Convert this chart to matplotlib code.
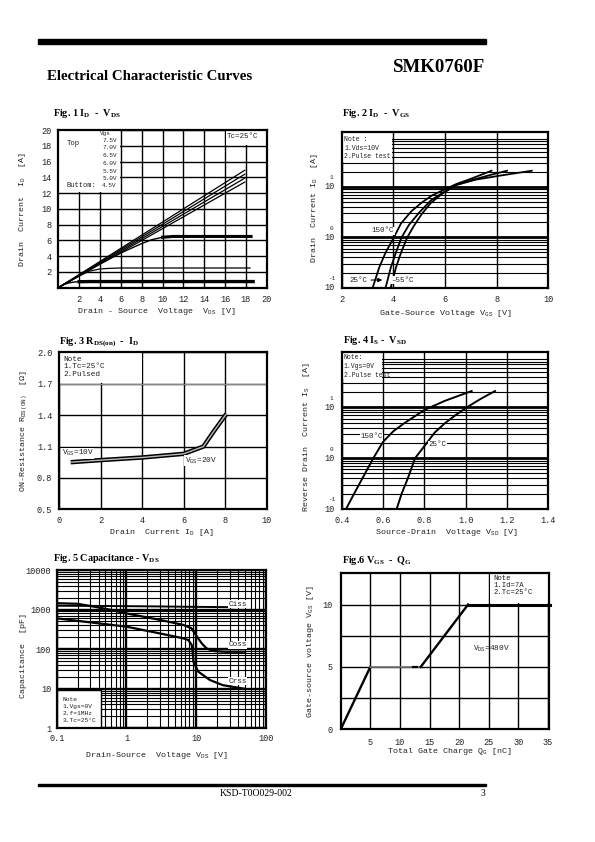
import matplotlib
matplotlib.use('Agg')
import matplotlib.pyplot as plt
from matplotlib.patches import Rectangle

# ---------------- data ----------------
# Fig.1  ID - VDS  (Tc = 25C)
f1_vgs_labels = ['7.5V', '7.0V', '6.5V', '6.0V', '5.5V', '5.0V', '4.5V']
f1_lin_vds = [0, 17.9]
f1_lin_id = [[0, 14.9], [0, 14.4], [0, 13.9], [0, 13.4]]
f1_55_vds = [0, 2, 4, 6, 7, 8, 9, 10, 11, 18.5]
f1_55_id = [0, 1.5, 3.0, 4.4, 5.0, 5.6, 6.1, 6.4, 6.5, 6.5]
f1_50_vds = [0, 1, 2, 3, 4, 5, 6, 18.4]
f1_50_id = [0, 0.8, 1.5, 2.1, 2.38, 2.46, 2.5, 2.5]
f1_45_vds = [0, 0.5, 1, 1.5, 2, 3, 18.7]
f1_45_id = [0, 0.4, 0.6, 0.72, 0.76, 0.78, 0.78]

# Fig.2  ID - VGS
f2_150_vgs = [3.2, 3.45, 3.7, 4.0, 4.3, 4.7, 5.1, 5.5, 6.0, 6.45, 7.0, 7.8]
f2_150_id = [0.1, 0.25, 0.5, 0.95, 1.9, 3.3, 4.9, 6.8, 9.0, 11.5, 14.5, 21]
f2_25_vgs = [3.7, 3.9, 4.1, 4.32, 4.6, 5.0, 5.45, 5.9, 6.45, 7.0, 7.7, 8.4]
f2_25_id = [0.1, 0.25, 0.5, 1.0, 1.75, 3.1, 5.4, 7.6, 11.0, 13.5, 17, 21]
f2_m55_vgs = [3.9, 4.1, 4.3, 4.54, 4.8, 5.1, 5.45, 5.9, 6.45, 7.2, 8.2, 9.36]
f2_m55_id = [0.1, 0.25, 0.5, 1.0, 1.7, 2.9, 4.8, 7.4, 11.0, 14, 17, 21]
f24_ytick_vals = [0.1, 1, 10]
f24_ytick_exp = ['-1', '0', '1']

# Fig.3  RDS(on) - ID
f3_id = [0.55, 2, 4, 6, 6.95, 7.43, 8.05]
f3_rds = [0.95, 0.97, 0.995, 1.03, 1.10, 1.24, 1.41]

# Fig.4  IS - VSD
f4_150_vsd = [0.421, 0.46, 0.5, 0.553, 0.6, 0.65, 0.7, 0.8, 0.9, 1.029]
f4_150_is = [0.1, 0.2, 0.4, 1.0, 2.1, 3.4, 4.8, 8.9, 13.5, 21]
f4_25_vsd = [0.666, 0.69, 0.72, 0.755, 0.811, 0.85, 0.9, 0.95, 1.005, 1.07, 1.142]
f4_25_is = [0.1, 0.2, 0.4, 1.0, 1.97, 3.2, 4.9, 7.0, 10, 14.5, 21]

# Fig.5  Capacitance - VDS
f5_ciss_v = [0.1, 0.3, 1, 3, 10, 35, 37]
f5_ciss_c = [1250, 1240, 1220, 1200, 1170, 1150, 1350]
f5_coss_v = [0.1, 0.2, 0.5, 1, 3, 6.5, 8.5, 10, 12, 14, 17.5, 25, 50]
f5_coss_c = [1450, 1400, 1050, 800, 550, 410, 340, 220, 140, 105, 90, 86, 86]
f5_crss_v = [0.1, 1, 3, 6.5, 7.7, 8.6, 8.9, 9.1, 10.7, 15.7, 24, 49]
f5_crss_c = [600, 370, 250, 188, 170, 128, 86, 48, 27, 16.6, 12.3, 10]

# Fig.6  VGS - QG
f6_qg = [0, 5, 13.5, 21.5, 35.3]
f6_vgs = [0, 5, 5, 10, 10]

# ---------------- figure ----------------
W, H, DPI = 595, 842, 100
plt.rcParams['font.family'] = ['Liberation Mono', 'DejaVu Sans Mono']
fig = plt.figure(figsize=(W / DPI, H / DPI), dpi=DPI)
SERIF = 'Liberation Serif'
TXT = '#222222'
LAB = 6.0


def px_axes(l, t, r, b):
    return fig.add_axes([l / W, 1 - b / H, (r - l) / W, (b - t) / H])


def style(ax, pad=5):
    for s in ax.spines.values():
        s.set_linewidth(1.6)
        s.set_color('black')
        s.set_zorder(4)
    ax.tick_params(which='both', length=0, labelsize=6.2, labelcolor=TXT, pad=pad)


def note_box(ax, x0, y0, x1, y1, edge=False):
    ax.add_patch(Rectangle((x0, y0), x1 - x0, y1 - y0, facecolor='white',
                           edgecolor='black' if edge else 'none', lw=1.0, zorder=2.2))


def pow10_labels(ax, vals, exps):
    ax.set_yticks(vals)
    ax.set_yticklabels([''] * len(vals))
    for v, e in zip(vals, exps):
        ax.annotate('10', xy=(0, v), xycoords=('axes fraction', 'data'),
                    xytext=(-5, 0), textcoords='offset points', ha='right',
                    va='center', size=6.2, color=TXT, annotation_clip=False)
        ax.annotate(e, xy=(0, v), xycoords=('axes fraction', 'data'),
                    xytext=(-7.5, 6.5), textcoords='offset points', ha='center',
                    va='center', size=4.3, color=TXT, annotation_clip=False)


def ftext(x, y, s, **kw):
    fig.text(x / W, 1 - y / H, s, **kw)


# page decorations
fig.add_artist(Rectangle((37.7 / W, 1 - 43.5 / H), 448 / W, 4.2 / H,
                         transform=fig.transFigure, color='black'))
fig.add_artist(Rectangle((37.7 / W, 1 - 786.3 / H), 448 / W, 2.2 / H,
                         transform=fig.transFigure, color='black'))
ftext(485, 71.7, 'SMK0760F', family=SERIF, weight='bold', size=13.6,
      ha='right', va='baseline')
ftext(47, 80.3, 'Electrical Characteristic Curves', family=SERIF, weight='bold',
      size=10.7, ha='left', va='baseline')
ftext(256, 796, 'KSD-T0O029-002', family=SERIF, size=7, ha='center', va='baseline')
ftext(485, 796, '3', family=SERIF, size=7, ha='right', va='baseline')

tkw = dict(family=SERIF, weight='bold', size=7.3, ha='left', va='baseline')
ftext(53, 116, r'Fig. 1 $\mathregular{I_D}$  -  $\mathregular{V_{DS}}$', **tkw)
ftext(342, 116, r'Fig. 2 $\mathregular{I_D}$  -  $\mathregular{V_{GS}}$', **tkw)
ftext(59, 344, r'Fig. 3 $\mathregular{R_{DS(on)}}$  -  $\mathregular{I_D}$', **tkw)
ftext(343, 343, r'Fig. 4 $\mathregular{I_S}$ -  $\mathregular{V_{SD}}$', **tkw)
ftext(53, 561, r'Fig. 5 Capacitance - $\mathregular{V_{DS}}$', **tkw)
ftext(342, 563, r'Fig.6 $\mathregular{V_{GS}}$  -  $\mathregular{Q_G}$', **tkw)

lkw = dict(size=LAB, color=TXT, ha='center', va='center')
# ---------------- Fig 1 ----------------
ax1 = px_axes(58.3, 130, 266.7, 287.7)
ax1.set_xlim(0, 20)
ax1.set_ylim(0, 20)
ax1.set_xticks(range(2, 21, 2))
ax1.set_yticks(range(2, 21, 2))
ax1.grid(True, color='black', lw=1.0)
style(ax1, pad=5)
note_box(ax1, 0, 12.12, 5.92, 20)
note_box(ax1, 16.08, 18.12, 20, 20)
for yy in f1_lin_id:
    ax1.plot(f1_lin_vds, yy, color='black', lw=0.9, zorder=3)
ax1.plot(f1_55_vds, f1_55_id, color='black', lw=1.0, zorder=3)
ax1.plot(f1_55_vds[7:], f1_55_id[7:], color='black', lw=2.2, zorder=3)
ax1.plot(f1_50_vds, f1_50_id, color='black', lw=0.9, zorder=3)
ax1.plot(f1_45_vds, f1_45_id, color='black', lw=1.0, zorder=3)
ax1.plot(f1_45_vds[4:], f1_45_id[4:], color='black', lw=2.4, zorder=3, clip_on=False)
ax1.text(0.8, 18.25, 'Top', size=5.2, color=TXT, va='center', zorder=5)
ax1.text(4.0, 19.55, 'Vgs', size=4.3, color=TXT, va='center', zorder=5)
f1_label_y = [18.73, 17.72, 16.74, 15.76, 14.8, 13.86, 12.9]
for lab, yy in zip(f1_vgs_labels, f1_label_y):
    ax1.text(4.2, yy, lab, size=4.4, color=TXT, va='center', zorder=5)
ax1.text(0.8, 12.9, 'Buttom:', size=5.0, color=TXT, va='center', zorder=5)
ax1.text(16.2, 19.2, 'Tc=25°C', size=5.4, color=TXT, va='center', zorder=5)
ftext(23, 210, r'Drain  Current  $\mathregular{I_D}$  [A]', rotation=90, **lkw)
ftext(156, 311.7, r'Drain - Source  Voltage  $\mathregular{V_{DS}}$ [V]', **lkw)

# ---------------- Fig 2 ----------------
ax2 = px_axes(341.7, 131.7, 548.3, 287.7)
ax2.set_yscale('log')
ax2.set_xlim(2, 10)
ax2.set_ylim(0.1, 125)
ax2.set_xticks([2, 4, 6, 8, 10])
pow10_labels(ax2, f24_ytick_vals, f24_ytick_exp)
ax2.grid(True, which='major', axis='y', color='black', lw=2.0)
ax2.grid(True, which='minor', axis='y', color='black', lw=0.8)
ax2.grid(True, which='major', axis='x', color='black', lw=1.0)
style(ax2, pad=5)
note_box(ax2, 2, 32, 3.96, 125)
for xs, ys in [(f2_150_vgs, f2_150_id), (f2_25_vgs, f2_25_id), (f2_m55_vgs, f2_m55_id)]:
    ax2.plot(xs, ys, color='black', lw=1.3, zorder=3)
ax2.text(2.1, 88, 'Note :', size=4.7, color=TXT, va='center', zorder=5)
ax2.text(2.1, 59, '1.Vds=10V', size=4.7, color=TXT, va='center', zorder=5)
ax2.text(2.1, 40, '2.Pulse test', size=4.7, color=TXT, va='center', zorder=5)
ax2.text(3.16, 1.34, '150°C', size=5.4, color=TXT, va='center', zorder=5,
         bbox=dict(facecolor='white', edgecolor='none', pad=0.3))
ax2.text(2.3, 0.142, '25°C', size=5.4, color=TXT, va='center', zorder=5,
         bbox=dict(facecolor='white', edgecolor='none', pad=0.3))
ax2.annotate('', xy=(3.68, 0.142), xytext=(3.03, 0.142),
             arrowprops=dict(arrowstyle='-|>', lw=0.8, color='black',
                             mutation_scale=6), zorder=5)
ax2.text(3.94, 0.142, '–55°C', size=5.4, color=TXT, va='center', zorder=5,
         bbox=dict(facecolor='white', edgecolor='none', pad=0.3))
ftext(314.5, 208, r'Drain  Current $\mathregular{I_D}$  [A]', rotation=90, **lkw)
ftext(446, 313.3, r'Gate-Source Voltage $\mathregular{V_{GS}}$ [V]', **lkw)

# ---------------- Fig 3 ----------------
ax3 = px_axes(59.3, 352.3, 266.7, 509.3)
ax3.set_xlim(0, 10)
ax3.set_ylim(0.5, 2.0)
ax3.set_xticks(range(0, 11, 2))
ax3.set_yticks([0.5, 0.8, 1.1, 1.4, 1.7, 2.0])
ax3.set_yticklabels(['0.5', '0.8', '1.1', '1.4', '1.7', '2.0'])
ax3.grid(True, color='black', lw=1.0)
style(ax3, pad=5)
note_box(ax3, 0, 1.71, 3.97, 2.0)
ax3.axhline(1.7, color='#888888', lw=0.8, zorder=2.3)
ax3.plot(f3_id, f3_rds, color='black', lw=3.2, zorder=3, solid_capstyle='butt')
ax3.plot(f3_id, f3_rds, color='#bbbbbb', lw=1.0, zorder=3.1, solid_capstyle='butt')
ax3.text(0.2, 1.93, 'Note', size=5.6, color=TXT, va='center', zorder=5)
ax3.text(0.2, 1.86, '1.Tc=25°C', size=5.6, color=TXT, va='center', zorder=5)
ax3.text(0.2, 1.79, '2.Pulsed', size=5.6, color=TXT, va='center', zorder=5)
ax3.text(0.12, 1.035, r'$\mathregular{V_{GS}}$=10V', size=5.6, color=TXT, va='center', zorder=5,
         bbox=dict(facecolor='white', edgecolor='none', pad=0.3))
ax3.text(6.05, 0.965, r'$\mathregular{V_{GS}}$=20V', size=5.6, color=TXT, va='center', zorder=5,
         bbox=dict(facecolor='white', edgecolor='none', pad=0.3))
ftext(24, 431, r'ON-Resistance $\mathregular{R_{DS(ON)}}$  [Ω]', rotation=90, **lkw)
ftext(161, 532.7, r'Drain  Current $\mathregular{I_D}$ [A]', **lkw)

# ---------------- Fig 4 ----------------
ax4 = px_axes(341.7, 351.7, 548.3, 509)
ax4.set_yscale('log')
ax4.set_xlim(0.4, 1.4)
ax4.set_ylim(0.1, 125)
ax4.set_xticks([0.4, 0.6, 0.8, 1.0, 1.2, 1.4])
ax4.set_xticklabels(['0.4', '0.6', '0.8', '1.0', '1.2', '1.4'])
pow10_labels(ax4, f24_ytick_vals, f24_ytick_exp)
ax4.grid(True, which='major', axis='y', color='black', lw=2.0)
ax4.grid(True, which='minor', axis='y', color='black', lw=0.8)
ax4.grid(True, which='major', axis='x', color='black', lw=1.0)
style(ax4, pad=5)
note_box(ax4, 0.4, 37, 0.596, 125)
ax4.plot(f4_150_vsd, f4_150_is, color='black', lw=1.4, zorder=3)
ax4.plot(f4_25_vsd, f4_25_is, color='black', lw=1.4, zorder=3)
ax4.text(0.41, 97, 'Note:', size=4.7, color=TXT, va='center', zorder=5)
ax4.text(0.41, 64, '1.Vgs=0V', size=4.7, color=TXT, va='center', zorder=5)
ax4.text(0.41, 43, '2.Pulse test', size=4.7, color=TXT, va='center', zorder=5)
ax4.text(0.489, 2.66, '150°C', size=5.4, color=TXT, va='center', zorder=5,
         bbox=dict(facecolor='white', edgecolor='none', pad=0.3))
ax4.text(0.819, 1.82, '25°C', size=5.4, color=TXT, va='center', zorder=5,
         bbox=dict(facecolor='white', edgecolor='none', pad=0.3))
ftext(306.5, 437, r'Reverse Drain  Current $\mathregular{I_S}$  [A]', rotation=90, **lkw)
ftext(447, 532.7, r'Source-Drain  Voltage $\mathregular{V_{SD}}$ [V]', **lkw)

# ---------------- Fig 5 ----------------
ax5 = px_axes(56.7, 570, 266, 728.3)
ax5.set_xscale('log')
ax5.set_yscale('log')
ax5.set_xlim(0.1, 100)
ax5.set_ylim(1, 10000)
ax5.set_xticks([0.1, 1, 10, 100])
ax5.set_xticklabels(['0.1', '1', '10', '100'])
ax5.set_yticks([1, 10, 100, 1000, 10000])
ax5.set_yticklabels(['1', '10', '100', '1000', '10000'])
ax5.grid(True, which='major', color='black', lw=1.7)
ax5.grid(True, which='minor', color='black', lw=0.8)
style(ax5, pad=4)
note_box(ax5, 0.1, 1, 0.43, 9.3, edge=True)
ax5.plot(f5_ciss_v, f5_ciss_c, color='black', lw=1.4, zorder=3)
ax5.plot(f5_coss_v, f5_coss_c, color='black', lw=1.6, zorder=3)
ax5.plot(f5_crss_v, f5_crss_c, color='black', lw=1.6, zorder=3)
for name, yv in [('Ciss', 1380), ('Coss', 128), ('Crss', 15.5)]:
    ax5.text(28.7, yv, name, size=5.6, color=TXT, va='center', zorder=5,
             bbox=dict(facecolor='white', edgecolor='none', pad=0.2))
ax5.text(0.12, 5.4, 'Note', size=4.5, color=TXT, va='center', zorder=5)
ax5.text(0.12, 3.6, '1.Vgs=0V', size=4.5, color=TXT, va='center', zorder=5)
ax5.text(0.12, 2.35, '2.f=1MHz', size=4.5, color=TXT, va='center', zorder=5)
ax5.text(0.12, 1.55, '3.Tc=25°C', size=4.5, color=TXT, va='center', zorder=5)
ftext(23.5, 655, 'Capacitance  [pF]', rotation=90, **lkw)
ftext(157, 755.7, r'Drain-Source  Voltage $\mathregular{V_{DS}}$ [V]', **lkw)

# ---------------- Fig 6 ----------------
ax6 = px_axes(340.7, 573.3, 549.3, 729.3)
ax6.set_xlim(0, 35.2)
ax6.set_ylim(0, 12.5)
ax6.set_xticks(range(5, 36, 5))
ax6.set_yticks([0, 5, 10])
ax6.xaxis.set_minor_locator(matplotlib.ticker.FixedLocator([]))
ax6.set_yticks([2.5, 7.5], minor=True)
ax6.grid(True, which='both', color='black', lw=1.0)
style(ax6, pad=6)
note_box(ax6, 25.2, 10.12, 35.2, 12.5)
ax6.plot(f6_qg[:2], f6_vgs[:2], color='black', lw=1.7, zorder=3)
ax6.plot(f6_qg[1:3], f6_vgs[1:3], color='#777777', lw=1.2, zorder=3)
ax6.plot([12.2, 12.9], [5, 5], color='black', lw=1.6, zorder=3)
ax6.plot(f6_qg[2:4], f6_vgs[2:4], color='black', lw=1.7, zorder=3)
ax6.plot(f6_qg[3:], f6_vgs[3:], color='black', lw=2.2, zorder=3, clip_on=False)
ax6.text(25.8, 12.1, 'Note', size=5.2, color=TXT, va='center', zorder=5)
ax6.text(25.8, 11.52, '1.Id=7A', size=5.2, color=TXT, va='center', zorder=5)
ax6.text(25.8, 10.94, '2.Tc=25°C', size=5.2, color=TXT, va='center', zorder=5)
ax6.text(22.3, 6.47, r'$\mathregular{V_{DS}}$=480V', size=5.6, color=TXT, va='center', zorder=5)
ftext(311, 651, r'Gate-source voltage $\mathregular{V_{GS}}$ [V]', rotation=90, **lkw)
ftext(449, 751.7, r'Total Gate Charge $\mathregular{Q_G}$ [nC]', **lkw)

fig.savefig('out.png', dpi=DPI)
